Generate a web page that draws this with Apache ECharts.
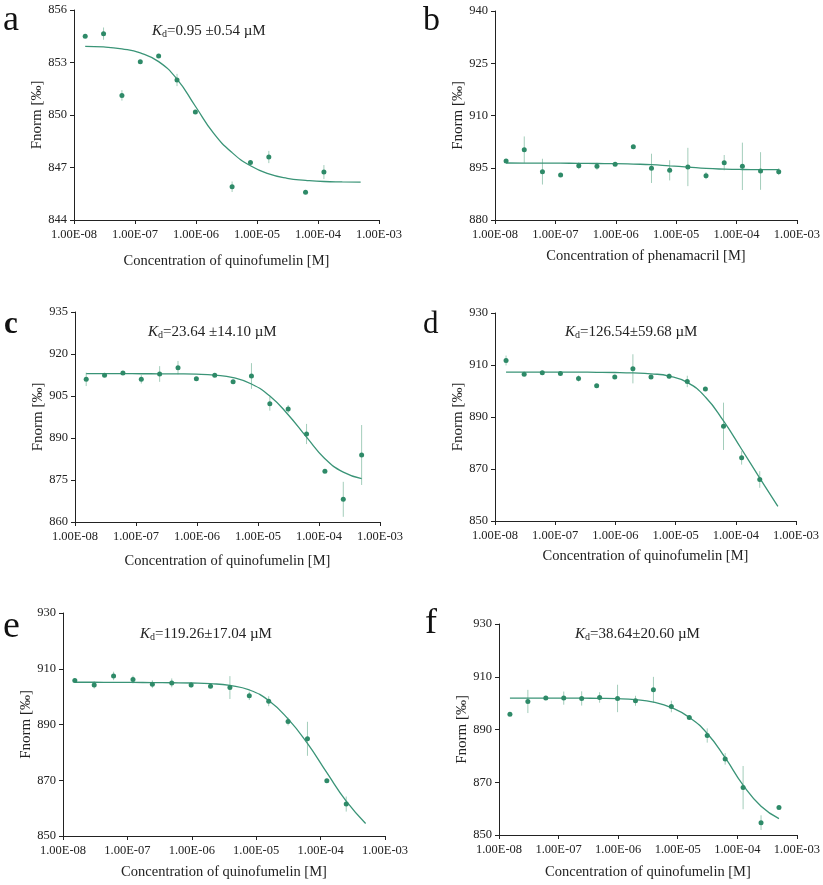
<!DOCTYPE html>
<html><head><meta charset="utf-8">
<script src="https://cdn.jsdelivr.net/npm/echarts@6/dist/echarts.min.js"></script>
<style>html,body{margin:0;padding:0;background:#fff}#c{width:823px;height:885px}</style>
</head><body><div id="c"></div>
<script>
// Concentrations (M), 2-fold serial dilution from 500 µM
const conc = [1.526e-8, 3.052e-8, 6.104e-8, 1.221e-7, 2.441e-7, 4.883e-7, 9.766e-7, 1.953e-6,
              3.906e-6, 7.813e-6, 1.563e-5, 3.125e-5, 6.25e-5, 1.25e-4, 2.5e-4, 5e-4];
const xTicks = [1e-8, 1e-7, 1e-6, 1e-5, 1e-4, 1e-3];

// Panel a
const aVal = [854.5, 854.65, 851.12, 853.05, 853.37, 852.0, 850.17, null, 845.9, 847.28, 847.6, null, 845.58, 846.74, null, null];
const aErr = [0, 0.35, 0.3, 0, 0, 0.35, 0, null, 0.3, 0, 0.35, null, 0, 0.4, null, null];
const aFit = [853.92, 853.89, 853.78, 853.55, 853.05, 852.05, 850.5, 848.95, 847.85, 847.1, 846.63, 846.38, 846.27, 846.2, 846.18, 846.17];
const aTicks = [844, 847, 850, 853, 856];
// Panel b
const bVal = [896.94, 900.19, 893.88, 892.92, 895.6, 895.41, 895.98, 901.05, 894.83, 894.26, 895.22, 892.73, 896.46, 895.41, 894.07, 893.88];
const bErr = [0, 3.8, 3.7, 0, 1, 1, 0, 0, 4.2, 2.9, 5.5, 1, 2.2, 6.8, 5.4, 1];
const bFit = [896.36, 896.35, 896.33, 896.3, 896.27, 896.22, 896.17, 896.05, 895.9, 895.55, 895.2, 894.8, 894.6, 894.5, 894.47, 894.45];
const bTicks = [880, 895, 910, 925, 940];
// Panel c
const cVal = [910.95, 912.38, 913.21, 910.95, 912.86, 915.12, 911.19, 912.38, 910.12, 912.14, 902.26, 900.36, 891.43, 878.1, 868.1, 883.93];
const cErr = [2.4, 0, 0, 1.5, 2.8, 2.4, 0, 0, 0.5, 4.6, 2.5, 1.4, 3.6, 0, 6.25, 10.7];
const cFit = [912.98, 912.97, 912.96, 912.95, 912.93, 912.9, 912.8, 912.45, 911.55, 909.3, 905.0, 898.3, 890.3, 882.6, 877.8, 875.5];
const cTicks = [860, 875, 890, 905, 920, 935];
// Panel d
const dVal = [911.73, 906.49, 907.0, 906.74, 904.82, 902.01, 905.34, 908.53, 905.34, 905.72, 903.67, 900.73, 886.42, 874.28, 865.97, null];
const dErr = [1.9, 0, 0, 0.8, 1.2, 0, 0, 5.6, 0, 1, 2.2, 0, 9.1, 2.6, 3.2, null];
const dFit = [907.25, 907.25, 907.25, 907.25, 907.24, 907.2, 907.12, 906.95, 906.6, 905.75, 903.3, 897.7, 888.5, 877.6, 866.5, 855.6];
const dTicks = [850, 870, 890, 910, 930];
// Panel e
const eVal = [905.76, 904.21, 907.43, 906.12, 904.45, 904.93, 904.21, 903.73, 903.25, 900.27, 898.36, 891.07, 884.87, 869.82, 861.46, null];
const eErr = [0, 1.3, 1.5, 1.4, 1.4, 1.6, 1, 0, 4.1, 1.5, 1.8, 1.4, 6.1, 0.5, 2.7, null];
const eFit = [905.16, 905.15, 905.12, 905.08, 905.04, 904.98, 904.88, 904.65, 904.0, 902.4, 898.6, 892.0, 883.2, 872.7, 862.5, 854.5];
const eTicks = [850, 870, 890, 910, 930];
// Panel f
const fVal = [895.82, 900.63, 901.9, 901.9, 901.77, 902.15, 901.77, 900.89, 905.06, 898.73, 894.56, 887.72, 878.86, 867.97, 854.68, 860.38];
const fErr = [0, 4.4, 0, 2.5, 2.7, 2, 5.2, 1.9, 4.9, 2.2, 0.5, 2.7, 2.2, 8.2, 2.8, 0];
const fFit = [901.9, 901.9, 901.9, 901.89, 901.87, 901.82, 901.7, 901.3, 900.35, 898.3, 894.6, 888.5, 879.3, 868.9, 860.9, 856.2];
const fTicks = [850, 870, 890, 910, 930];

const panelLetters = ['a', 'b', 'c', 'd', 'e', 'f'];
const xNames = ['Concentration of quinofumelin [M]', 'Concentration of phenamacril [M]',
  'Concentration of quinofumelin [M]', 'Concentration of quinofumelin [M]',
  'Concentration of quinofumelin [M]', 'Concentration of quinofumelin [M]'];
const kdTexts = ['=0.95 ±0.54 µM', null, '=23.64 ±14.10 µM', '=126.54±59.68 µM', '=119.26±17.04 µM', '=38.64±20.60 µM'];

const FONT = '"Liberation Serif", "Times New Roman", serif';
const DOT = '#2e8a68';
const LINE = '#3a9477';
const ERR = '#a3cdbb';

const panels = [
  {val: aVal, err: aErr, fit: aFit, ticks: aTicks, grid: {left: 74, top: 10, width: 305, height: 210}, nameGap: 34,
   kd: {left: 152, top: 23}, letter: {x: 3, y: 3, size: 36, weight: 'normal'}},
  {val: bVal, err: bErr, fit: bFit, ticks: bTicks, grid: {left: 495, top: 11, width: 303, height: 209}, nameGap: 29,
   kd: null, letter: {x: 423, y: 4, size: 34, weight: 'normal'}},
  {val: cVal, err: cErr, fit: cFit, ticks: cTicks, grid: {left: 75, top: 312, width: 305, height: 210}, nameGap: 32,
   kd: {left: 148, top: 324}, letter: {x: 4, y: 309, size: 31, weight: 'bold'}},
  {val: dVal, err: dErr, fit: dFit, ticks: dTicks, grid: {left: 495, top: 313, width: 301, height: 208}, nameGap: 28,
   kd: {left: 565, top: 324}, letter: {x: 423, y: 309, size: 31, weight: 'normal'}},
  {val: eVal, err: eErr, fit: eFit, ticks: eTicks, grid: {left: 63, top: 613, width: 322, height: 223}, nameGap: 29,
   kd: {left: 140, top: 626}, letter: {x: 3, y: 608, size: 38, weight: 'normal'}},
  {val: fVal, err: fErr, fit: fFit, ticks: fTicks, grid: {left: 499, top: 624, width: 299, height: 211}, nameGap: 30,
   kd: {left: 575, top: 626}, letter: {x: 425, y: 606, size: 36, weight: 'normal'}}
];

function fmtE(v) {
  const e = Math.round(Math.log10(v));
  return '1.00E' + (e < 0 ? '-' : '+') + String(Math.abs(e)).padStart(2, '0');
}

const grid = [], xAxis = [], yAxis = [], series = [], title = [], graphic = [];
panels.forEach((p, i) => {
  grid.push(Object.assign({containLabel: false}, p.grid));
  xAxis.push({
    type: 'log', logBase: 10, gridIndex: i, min: xTicks[0], max: xTicks[xTicks.length - 1],
    name: xNames[i], nameLocation: 'middle', nameGap: p.nameGap,
    nameTextStyle: {fontFamily: FONT, fontSize: 14.5, color: '#222'},
    axisLine: {show: true, onZero: false, lineStyle: {color: '#222', width: 1}},
    axisTick: {show: true, length: 4, lineStyle: {color: '#222'}},
    minorTick: {show: false},
    splitLine: {show: false},
    axisLabel: {fontFamily: FONT, fontSize: 12.5, color: '#222', margin: 8, formatter: fmtE, showMinLabel: true, showMaxLabel: true}
  });
  yAxis.push({
    type: 'value', gridIndex: i, min: p.ticks[0], max: p.ticks[p.ticks.length - 1],
    name: 'Fnorm [‰]', nameLocation: 'middle', nameGap: 29, nameRotate: 90,
    nameTextStyle: {fontFamily: FONT, fontSize: 15, color: '#222'},
    axisLine: {show: true, lineStyle: {color: '#222', width: 1}},
    axisTick: {show: true, length: 4, lineStyle: {color: '#222'}, customValues: p.ticks},
    splitLine: {show: false},
    axisLabel: {fontFamily: FONT, fontSize: 12.5, color: '#222', margin: 7, customValues: p.ticks}
  });
  // error bars
  const errData = [];
  p.val.forEach((v, k) => {
    if (v != null && p.err[k]) errData.push([conc[k], v - p.err[k], v + p.err[k]]);
  });
  series.push({
    type: 'custom', xAxisIndex: i, yAxisIndex: i, data: errData, silent: true,
    encode: {x: 0, y: [1, 2]},
    renderItem: function (params, api) {
      const x = api.value(0);
      const p1 = api.coord([x, api.value(1)]);
      const p2 = api.coord([x, api.value(2)]);
      return {type: 'line', shape: {x1: p1[0], y1: p1[1], x2: p2[0], y2: p2[1]},
        style: {stroke: ERR, lineWidth: 1}};
    }
  });
  // fitted curve
  series.push({
    type: 'line', xAxisIndex: i, yAxisIndex: i, showSymbol: false, smooth: 0.5,
    data: p.fit.map((v, k) => [conc[k], v]),
    lineStyle: {color: LINE, width: 1.3}, silent: true, z: 3
  });
  // points
  series.push({
    type: 'scatter', xAxisIndex: i, yAxisIndex: i, symbolSize: 5,
    data: p.val.map((v, k) => v == null ? null : [conc[k], v]).filter(d => d),
    itemStyle: {color: DOT, opacity: 1}, z: 4
  });
  if (kdTexts[i]) {
    title.push({
      text: '{i|K}{s|d}{n|' + kdTexts[i] + '}', left: p.kd.left, top: p.kd.top, padding: 0,
      textStyle: {
        fontWeight: 'normal',
        rich: {
          i: {fontFamily: FONT, fontSize: 15, fontStyle: 'italic', fontWeight: 'normal', color: '#222'},
          s: {fontFamily: FONT, fontSize: 10, fontWeight: 'normal', color: '#222', verticalAlign: 'bottom', padding: [6, 0, 0, 0]},
          n: {fontFamily: FONT, fontSize: 15, fontWeight: 'normal', color: '#222'}
        }
      }
    });
  }
  graphic.push({
    type: 'text', left: p.letter.x, top: p.letter.y,
    style: {text: panelLetters[i], fontFamily: FONT, fontSize: p.letter.size, fontWeight: p.letter.weight, fill: '#111'}
  });
});

const chart = echarts.init(document.getElementById('c'), null, {renderer: 'canvas'});
chart.setOption({animation: false, backgroundColor: '#fff', grid, xAxis, yAxis, series, title, graphic});
</script></body></html>
